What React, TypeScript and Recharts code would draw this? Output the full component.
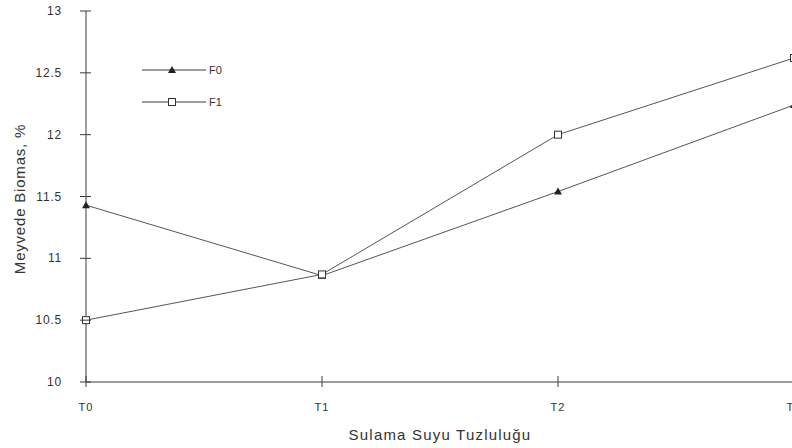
import React from 'react';
import { LineChart, Line, XAxis, YAxis } from 'recharts';

const categories = ['T0', 'T1', 'T2', 'T3'];
const f0Values = [11.43, 10.86, 11.54, 12.24];
const f1Values = [10.5, 10.87, 12.0, 12.62];
const yTicks = [10, 10.5, 11, 11.5, 12, 12.5, 13];

const data = categories.map((c, i) => ({ cat: c, F0: f0Values[i], F1: f1Values[i] }));

const INK = '#3a3a3a';
const FONT = '"Liberation Sans", Arial, sans-serif';
const AXIS_X = 86;
const AXIS_Y = 382;

function Triangle({ cx, cy }: any) {
  if (cx == null || cy == null) return null;
  return <path d={`M${cx},${cy - 4} L${cx + 4},${cy + 3} L${cx - 4},${cy + 3} Z`} fill="#222" />;
}

function Square({ cx, cy }: any) {
  if (cx == null || cy == null) return null;
  return <rect x={cx - 3.5} y={cy - 3.5} width={7} height={7} fill="#fff" stroke="#333" strokeWidth={1} />;
}

function YTick({ y, payload }: any) {
  return (
    <g>
      <line x1={AXIS_X - 6} x2={AXIS_X + 5} y1={y} y2={y} stroke={INK} />
      <text x={62} y={y + 4} textAnchor="end" fill="#333" fontSize={12} letterSpacing={0.8} fontFamily={FONT}>
        {payload.value}
      </text>
    </g>
  );
}

function XTick({ x, payload }: any) {
  return (
    <g>
      <line x1={x} x2={x} y1={AXIS_Y - 6} y2={AXIS_Y + 5} stroke={INK} />
      <text x={x} y={AXIS_Y + 29} textAnchor="middle" fill="#333" fontSize={11} letterSpacing={1.2} fontFamily={FONT}>
        {payload.value}
      </text>
    </g>
  );
}

function LegendRow({ top, label, marker }: { top: number; label: string; marker: 'tri' | 'sq' }) {
  return (
    <div style={{ position: 'absolute', left: 142, top, height: 16, display: 'flex', alignItems: 'center' }}>
      <svg width={64} height={16}>
        <line x1={0} x2={64} y1={8} y2={8} stroke={INK} />
        {marker === 'tri' ? <Triangle cx={30} cy={8} /> : <Square cx={30} cy={8} />}
      </svg>
      <span style={{ fontFamily: FONT, fontSize: 11, color: '#333', marginLeft: 3 }}>{label}</span>
    </div>
  );
}

export default function App() {
  return (
    <div style={{ position: 'absolute', left: 0, top: 0, width: 792, height: 448, overflow: 'hidden', background: '#fff' }}>
      <LineChart width={800} height={448} data={data} margin={{ top: 11, right: 6, bottom: 36, left: 0 }}>
        <XAxis
          dataKey="cat"
          height={30}
          tickLine={false}
          tick={<XTick />}
          axisLine={{ stroke: INK }}
          interval={0}
        />
        <YAxis
          width={86}
          domain={[10, 13]}
          ticks={yTicks}
          tickLine={false}
          tick={<YTick />}
          axisLine={{ stroke: INK }}
          interval={0}
        />
        <Line
          dataKey="F0"
          stroke="#555"
          strokeWidth={1}
          dot={<Triangle />}
          isAnimationActive={false}
        />
        <Line
          dataKey="F1"
          stroke="#555"
          strokeWidth={1}
          dot={<Square />}
          isAnimationActive={false}
        />
      </LineChart>
      <LegendRow top={62} label="F0" marker="tri" />
      <LegendRow top={94} label="F1" marker="sq" />
      <div
        style={{
          position: 'absolute', left: 19, top: 199, transform: 'translate(-50%, -50%) rotate(-90deg)',
          fontFamily: FONT, fontSize: 15, letterSpacing: 0.8, color: '#333', whiteSpace: 'nowrap',
        }}
      >
        Meyvede Biomas, %
      </div>
      <div
        style={{
          position: 'absolute', left: 440, top: 434, transform: 'translate(-50%, -50%)',
          fontFamily: FONT, fontSize: 15, letterSpacing: 1.2, color: '#333', whiteSpace: 'nowrap',
        }}
      >
        Sulama Suyu Tuzluluğu
      </div>
    </div>
  );
}
